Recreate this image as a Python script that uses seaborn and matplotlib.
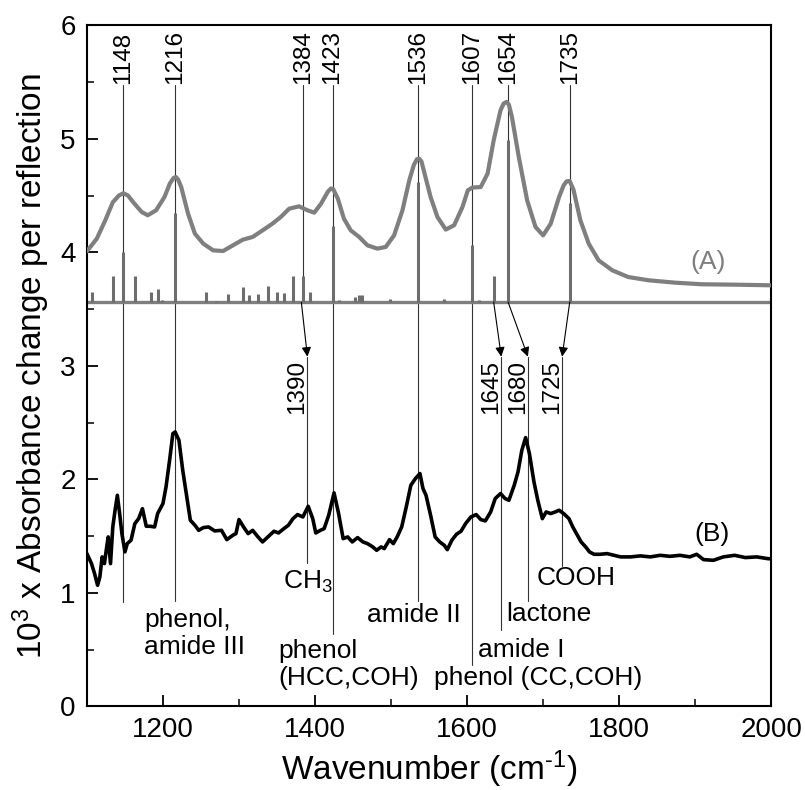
import matplotlib
matplotlib.use("Agg")
import matplotlib.pyplot as plt
import seaborn as sns

# computed spectrum (A)
a_wn = [1100, 1113, 1124, 1134, 1142, 1148, 1154, 1161, 1172, 1180,
        1191, 1202, 1209, 1214, 1217, 1220, 1224, 1233, 1242, 1253,
        1266, 1279, 1292, 1305, 1318, 1331, 1344, 1355, 1366, 1379,
        1390, 1399, 1408, 1417, 1421, 1424, 1430, 1438, 1447, 1458,
        1469, 1482, 1493, 1504, 1515, 1524, 1530, 1534, 1537, 1540,
        1543, 1552, 1561, 1572, 1583, 1594, 1601, 1607, 1618, 1627,
        1635, 1644, 1648, 1652, 1655, 1659, 1668, 1679, 1690, 1700,
        1710, 1721, 1727, 1731, 1735, 1740, 1749, 1760, 1773, 1791,
        1812, 1839, 1874, 1909, 1948, 2000]
a_abs = [4.01, 4.12, 4.28, 4.44, 4.50, 4.52, 4.50, 4.44, 4.355, 4.326,
         4.37, 4.487, 4.605, 4.655, 4.663, 4.64, 4.575, 4.34, 4.164, 4.076,
         4.017, 4.011, 4.061, 4.111, 4.135, 4.193, 4.252, 4.311, 4.384, 4.405,
         4.37, 4.349, 4.429, 4.535, 4.562, 4.555, 4.473, 4.296, 4.193, 4.135,
         4.061, 4.032, 4.047, 4.149, 4.37, 4.634, 4.77, 4.82, 4.825, 4.80,
         4.722, 4.487, 4.311, 4.2, 4.238, 4.4, 4.546, 4.57, 4.575, 4.693,
         4.987, 5.251, 5.31, 5.325, 5.30, 5.192, 4.84, 4.458, 4.223, 4.149,
         4.252, 4.487, 4.59, 4.625, 4.628, 4.55, 4.282, 4.076, 3.929, 3.841,
         3.782, 3.753, 3.732, 3.718, 3.715, 3.709]

# stick spectrum under (A)
stick_wn = [1106, 1134, 1148, 1163, 1184, 1193, 1199, 1216, 1257, 1270,
            1285, 1305, 1313, 1325, 1338, 1350, 1359, 1371, 1384, 1393,
            1423, 1431, 1453, 1458, 1462, 1499, 1536, 1569, 1607, 1616,
            1635, 1654, 1735]
stick_top = [3.65, 3.79, 4.00, 3.79, 3.65, 3.68, 3.58, 4.35, 3.65, 3.57,
             3.63, 3.69, 3.62, 3.63, 3.70, 3.65, 3.64, 3.79, 3.79, 3.65,
             4.23, 3.58, 3.61, 3.62, 3.62, 3.59, 4.62, 3.59, 4.06, 3.58,
             3.79, 4.99, 4.43]
stick_base = 3.56

# measured spectrum (B)
b_wn = [1100, 1106, 1110, 1114, 1117, 1120, 1123, 1126, 1128, 1131,
        1134, 1137, 1140, 1143, 1146, 1150, 1153, 1158, 1163, 1168,
        1173, 1178, 1183, 1189, 1193, 1200, 1204, 1209, 1213, 1216,
        1221, 1226, 1232, 1236, 1242, 1247, 1253, 1260, 1268, 1277,
        1284, 1292, 1296, 1300, 1306, 1312, 1318, 1325, 1331, 1338,
        1346, 1352, 1359, 1365, 1371, 1377, 1384, 1391, 1397, 1401,
        1407, 1412, 1418, 1425, 1431, 1437, 1443, 1449, 1456, 1463,
        1469, 1476, 1481, 1487, 1491, 1498, 1503, 1508, 1514, 1520,
        1526, 1532, 1538, 1542, 1546, 1552, 1558, 1564, 1570, 1574,
        1580, 1586, 1592, 1598, 1605, 1612, 1618, 1624, 1631, 1637,
        1644, 1650, 1655, 1662, 1667, 1672, 1677, 1682, 1688, 1693,
        1699, 1704, 1710, 1716, 1721, 1727, 1734, 1739, 1745, 1750,
        1756, 1761, 1767, 1775, 1784, 1793, 1802, 1815, 1828, 1841,
        1854, 1867, 1880, 1893, 1902, 1911, 1924, 1937, 1952, 1966,
        1981, 1996, 2000]
b_abs = [1.345, 1.257, 1.169, 1.066, 1.14, 1.316, 1.257, 1.404, 1.492, 1.257,
         1.58, 1.727, 1.859, 1.698, 1.521, 1.36, 1.433, 1.463, 1.609, 1.653,
         1.741, 1.586, 1.586, 1.58, 1.698, 1.786, 1.932, 2.182, 2.402, 2.417,
         2.344, 2.079, 1.815, 1.639, 1.595, 1.55, 1.574, 1.58, 1.545, 1.55,
         1.468, 1.507, 1.521, 1.645, 1.58, 1.521, 1.55, 1.492, 1.448, 1.492,
         1.542, 1.527, 1.565, 1.595, 1.653, 1.689, 1.668, 1.762, 1.653, 1.527,
         1.55, 1.565, 1.683, 1.88, 1.698, 1.477, 1.492, 1.448, 1.486, 1.448,
         1.433, 1.404, 1.374, 1.404, 1.389, 1.468, 1.433, 1.492, 1.58, 1.756,
         1.947, 2.006, 2.05, 1.918, 1.859, 1.683, 1.492, 1.448, 1.418, 1.38,
         1.463, 1.515, 1.542, 1.609, 1.668, 1.689, 1.645, 1.633, 1.712, 1.83,
         1.874, 1.83, 1.815, 1.947, 2.065, 2.255, 2.367, 2.226, 1.976, 1.815,
         1.653, 1.712, 1.698, 1.712, 1.727, 1.698, 1.653, 1.58, 1.507, 1.448,
         1.404, 1.36, 1.339, 1.339, 1.345, 1.33, 1.316, 1.316, 1.325, 1.316,
         1.33, 1.321, 1.33, 1.316, 1.339, 1.292, 1.286, 1.316, 1.33, 1.31,
         1.316, 1.30, 1.30]

# band assignments
top_bands = [1148, 1216, 1384, 1423, 1536, 1607, 1654, 1735]
top_line_end = [0.92, 0.93, stick_base, 0.64, 0.93, 0.36, stick_base, stick_base]
low_bands = [1390, 1645, 1680, 1725]
low_from = [1382, 1635, 1654, 1735]
low_line_end = [1.26, 0.67, 0.93, 1.24]
assign_text = ["CH$_3$", "phenol,\namide III", "phenol\n(HCC,COH)", "amide II",
               "phenol (CC,COH)", "amide I", "lactone", "COOH"]
assign_x = [1390, 1175, 1352, 1469, 1556, 1615, 1651, 1691]
assign_y = [1.10, 0.64, 0.37, 0.80, 0.25, 0.50, 0.81, 1.13]

sns.set_theme(style="ticks")
plt.rcParams["font.family"] = ["Liberation Sans", "DejaVu Sans"]
plt.rcParams["mathtext.fontset"] = "custom"
plt.rcParams["mathtext.rm"] = "Liberation Sans"
plt.rcParams["mathtext.default"] = "regular"
for key in ["text.color", "axes.labelcolor", "xtick.color", "ytick.color"]:
    plt.rcParams[key] = "black"

grey = "#7f7f7f"
fig, ax = plt.subplots(figsize=(8.05, 7.9), dpi=100)
fig.subplots_adjust(left=0.108, right=0.958, bottom=0.106, top=0.968)

# stick spectrum + baseline
ax.axhline(stick_base, color=grey, lw=2.4, zorder=2)
ax.vlines(stick_wn, stick_base, stick_top, color="#6e6e6e", lw=2.2, zorder=2)

sns.lineplot(x=a_wn, y=a_abs, ax=ax, color=grey, lw=3.0, zorder=3)
sns.lineplot(x=b_wn, y=b_abs, ax=ax, color="black", lw=2.6, zorder=3)

# thin assignment lines and labels
thin = dict(color="#333333", lw=0.8, zorder=1)
for wn, yend in zip(top_bands, top_line_end):
    ax.plot([wn, wn], [5.47, yend], **thin)
    ax.text(wn, 5.48, str(wn), rotation=90, ha="center", va="bottom", fontsize=17.5)

for wn, src, yend in zip(low_bands, low_from, low_line_end):
    ax.annotate("", xy=(wn, 3.08), xytext=(src, stick_base),
                arrowprops=dict(arrowstyle="-|>", color="black", lw=0.8,
                                mutation_scale=14, shrinkA=0, shrinkB=0))
    ax.plot([wn, wn], [3.08, yend], **thin)
    ax.text(wn + 1, 3.05, str(wn), rotation=90, ha="right", va="top", fontsize=17.5)

for txt, x, y in zip(assign_text, assign_x, assign_y):
    if txt.startswith("CH"):
        ax.text(x, y, txt, ha="center", va="center", fontsize=19)
    else:
        ax.text(x, y, txt, ha="left", va="center", fontsize=19, linespacing=1.15)

ax.text(1917, 3.91, "(A)", color=grey, ha="center", va="center", fontsize=19)
ax.text(1922, 1.52, "(B)", color="black", ha="center", va="center", fontsize=19)

ax.set_xlim(1100, 2000)
ax.set_ylim(0, 6)
ax.set_xticks([1200, 1400, 1600, 1800, 2000])
ax.set_xticks([1300, 1500, 1700, 1900], minor=True)
ax.set_yticks([0, 1, 2, 3, 4, 5, 6])
ax.set_yticks([0.5, 1.5, 2.5, 3.5, 4.5, 5.5], minor=True)
ax.tick_params(axis="both", which="major", direction="in", length=8, width=1.3,
               labelsize=20, top=False, right=False, pad=8)
ax.tick_params(axis="both", which="minor", direction="in", length=5, width=1.1,
               top=False, right=False)
for sp in ax.spines.values():
    sp.set_visible(True)
    sp.set_linewidth(1.5)
    sp.set_color("black")

ax.set_xlabel(r"Wavenumber (cm$^{\text{-1}}$)", fontsize=24, labelpad=4)
ax.set_ylabel("10$^3$ x Absorbance change per reflection", fontsize=24, labelpad=6)

fig.savefig("out.png", dpi=100)
